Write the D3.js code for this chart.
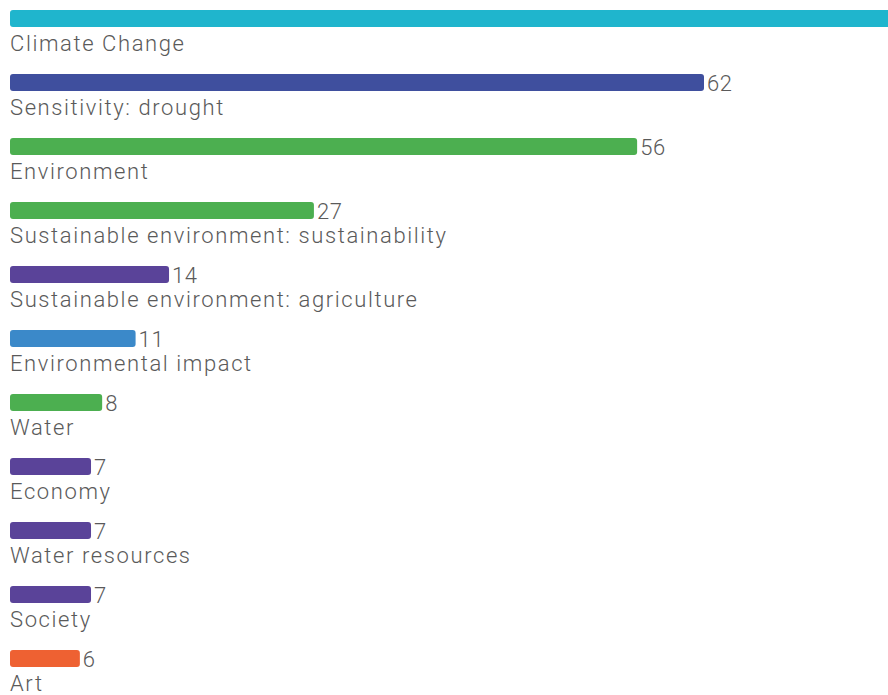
<!DOCTYPE html>
<html>
<head>
<meta charset="utf-8">
<script src="https://cdn.jsdelivr.net/npm/d3@7"></script>
<style>
  body { margin: 0; background: #fff; }
  text { font-family: Roboto, "Noto Sans", sans-serif; fill: #5a5a5a; }
</style>
</head>
<body>
<svg class="svg" width="888" height="695"></svg>
<script>
let categories = ['Climate Change','Sensitivity: drought','Environment','Sustainable environment: sustainability',
    'Sustainable environment: agriculture','Environmental impact','Water','Economy','Water resources','Society','Art'];
let values = [92, 62, 56, 27, 14, 11, 8, 7, 7, 7, 6];
let colors = ['#1fb5cd','#3f4f9e','#4caf50','#4caf50','#5a4399','#3b89c9','#4caf50','#5a4399','#5a4399','#5a4399','#ee6132'];

let width = 888;
let barLeft = 10, barH = 17, rowH = 64, firstTop = 10;

let x = d3.scaleLinear().domain([0, 62]).range([13, 704]);
let y = d3.scaleLinear().domain([0, 1]).range([firstTop, firstTop + rowH]);

let svg = d3.select('.svg');

let rows = svg.selectAll('g.row')
    .data(categories)
    .enter()
    .append('g')
    .attr('class','row')
    .attr('transform', (d, i) => 'translate(0,' + y(i) + ')');

rows.append('rect')
    .attr('x', barLeft)
    .attr('y', 0)
    .attr('width', (d, i) => x(values[i]) - barLeft)
    .attr('height', barH)
    .attr('rx', 3)
    .attr('fill', (d, i) => colors[i]);

// value labels right of the bar end (the first bar runs off the page, so its label does too)
rows.filter((d, i) => x(values[i]) + 30 < width)
    .append('text')
    .attr('x', d => x(values[categories.indexOf(d)]) + 3)
    .attr('y', barH / 2 + 8)
    .text(d => values[categories.indexOf(d)])
    .style('font-size', '22px')
    .style('font-weight', '300')
    .style('letter-spacing', '0.6px');

// category names below the bar
rows.append('text')
    .attr('x', barLeft)
    .attr('y', barH + 24)
    .text(d => d)
    .style('font-size', '22px')
    .style('font-weight', '300')
    .style('letter-spacing', '1.6px');
</script>
</body>
</html>
